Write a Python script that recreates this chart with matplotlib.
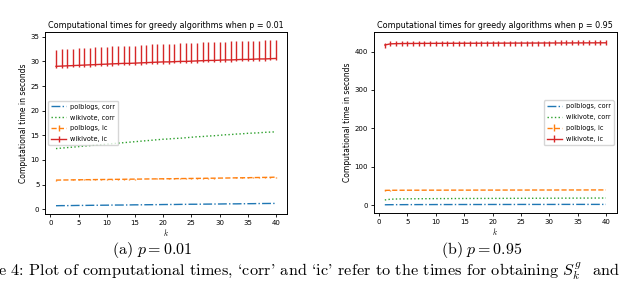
import numpy as np
import matplotlib
matplotlib.use('Agg')
import matplotlib.pyplot as plt

plt.rcParams['mathtext.fontset'] = 'cm'

k = list(range(1, 41))

# p = 0.01
pb_corr_001 = [0.70, 0.72, 0.72, 0.74, 0.76, 0.76, 0.78, 0.79, 0.80, 0.81,
               0.83, 0.84, 0.84, 0.86, 0.88, 0.88, 0.90, 0.91, 0.92, 0.94,
               0.95, 0.95, 0.97, 0.98, 1.00, 1.00, 1.02, 1.03, 1.04, 1.05,
               1.07, 1.08, 1.08, 1.10, 1.11, 1.12, 1.14, 1.15, 1.16, 1.17]
wv_corr_001 = [12.3, 12.4, 12.5, 12.6, 12.7, 12.8, 12.9, 13.0, 13.1, 13.2,
               13.3, 13.4, 13.5, 13.6, 13.7, 13.8, 13.9, 14.0, 14.1, 14.2,
               14.25, 14.35, 14.4, 14.5, 14.6, 14.7, 14.75, 14.85, 14.9, 15.0,
               15.1, 15.15, 15.25, 15.3, 15.4, 15.45, 15.5, 15.6, 15.65, 15.7]
pb_ic_001 = [5.90, 5.92, 5.93, 5.95, 5.96, 5.98, 5.99, 6.01, 6.02, 6.03,
             6.05, 6.06, 6.07, 6.09, 6.10, 6.11, 6.13, 6.14, 6.15, 6.17,
             6.18, 6.19, 6.21, 6.22, 6.24, 6.25, 6.26, 6.28, 6.29, 6.31,
             6.32, 6.34, 6.36, 6.37, 6.39, 6.41, 6.43, 6.45, 6.47, 6.50]
pb_ic_err_001 = [0.08] * 40
wv_ic_001 = [29.0, 29.05, 29.1, 29.15, 29.2, 29.25, 29.3, 29.35, 29.4, 29.45,
             29.5, 29.55, 29.6, 29.6, 29.65, 29.7, 29.75, 29.8, 29.85, 29.9,
             29.9, 29.95, 30.0, 30.0, 30.05, 30.1, 30.15, 30.2, 30.2, 30.25,
             30.3, 30.3, 30.35, 30.4, 30.4, 30.45, 30.5, 30.5, 30.55, 30.6]
wv_ic_lo_001 = [0.35] * 40
wv_ic_hi_001 = [3.4, 3.45, 3.4, 3.45, 3.5, 3.45, 3.5, 3.5, 3.55, 3.5,
                3.55, 3.55, 3.6, 3.6, 3.55, 3.6, 3.6, 3.65, 3.6, 3.65,
                3.65, 3.6, 3.65, 3.7, 3.65, 3.65, 3.7, 3.7, 3.65, 3.7,
                3.7, 3.75, 3.7, 3.7, 3.75, 3.75, 3.7, 3.75, 3.75, 3.7]

# p = 0.95
pb_corr_095 = [1.5, 1.7, 1.8, 1.8, 1.9, 1.9, 2.0, 2.0, 2.0, 2.1,
               2.1, 2.1, 2.1, 2.2, 2.2, 2.2, 2.2, 2.2, 2.3, 2.3,
               2.3, 2.3, 2.3, 2.3, 2.4, 2.4, 2.4, 2.4, 2.4, 2.4,
               2.4, 2.5, 2.5, 2.5, 2.5, 2.5, 2.5, 2.5, 2.5, 2.5]
wv_corr_095 = [14.0, 16.0, 16.5, 16.8, 17.0, 17.1, 17.2, 17.3, 17.4, 17.5,
               17.6, 17.6, 17.7, 17.8, 17.8, 17.9, 17.9, 18.0, 18.0, 18.1,
               18.1, 18.2, 18.2, 18.3, 18.3, 18.4, 18.4, 18.5, 18.5, 18.6,
               18.6, 18.7, 18.7, 18.8, 18.8, 18.9, 18.9, 19.0, 19.0, 19.1]
pb_ic_095 = [39.0, 39.2, 39.3, 39.3, 39.4, 39.4, 39.4, 39.5, 39.5, 39.5,
             39.5, 39.6, 39.6, 39.6, 39.6, 39.6, 39.7, 39.7, 39.7, 39.7,
             39.7, 39.8, 39.8, 39.8, 39.8, 39.8, 39.9, 39.9, 39.9, 39.9,
             39.9, 40.0, 40.0, 40.0, 40.0, 40.0, 40.1, 40.1, 40.1, 40.1]
pb_ic_err_095 = [0.6] * 40
wv_ic_095 = [417.0, 420.0, 420.5, 420.8, 421.0, 421.0, 421.2, 421.2, 421.3, 421.3,
             421.4, 421.4, 421.5, 421.5, 421.6, 421.6, 421.6, 421.7, 421.7, 421.8,
             421.8, 421.9, 421.9, 422.0, 422.0, 422.0, 422.1, 422.1, 422.2, 422.2,
             422.3, 422.3, 422.4, 422.4, 422.5, 422.5, 422.6, 422.6, 422.7, 422.7]
wv_ic_err_095 = [6.5] * 40

labels = ['polblogs, corr', 'wikivote, corr', 'polblogs, ic', 'wikivote, ic']

fig = plt.figure(figsize=(6.4, 2.84), dpi=100)
ax1 = fig.add_axes([0.0703, 0.2465, 0.378, 0.641])
ax2 = fig.add_axes([0.584, 0.25, 0.380, 0.637])

def dibujar(ax, pbc, wvc, pbi, pbi_err, wvi, wvi_err, titulo, loc):
    ax.plot(k, pbc, '-.', c='C0', lw=1, label=labels[0])
    ax.plot(k, wvc, ':', c='C2', lw=1, label=labels[1])
    ax.errorbar(k, pbi, yerr=pbi_err, ls='--', c='C1', lw=1, elinewidth=1, label=labels[2])
    ax.errorbar(k, wvi, yerr=wvi_err, ls='-', c='C3', lw=1, elinewidth=1, label=labels[3])
    ax.set_title(titulo, fontsize=5.8, pad=3)
    ax.set_xlabel('$k$', fontsize=5.5, labelpad=1)
    ax.set_ylabel('Computational time in seconds', fontsize=5.5, labelpad=2)
    ax.set_xticks([0, 5, 10, 15, 20, 25, 30, 35, 40])
    ax.tick_params(labelsize=5, length=2.5, width=0.6, pad=1.5)
    for s in ax.spines.values():
        s.set_linewidth(0.7)
    ax.legend(loc=loc, fontsize=4.7, handlelength=2.3, labelspacing=0.75,
              borderpad=0.45, handletextpad=0.6, framealpha=0.8)

dibujar(ax1, pb_corr_001, wv_corr_001, pb_ic_001, pb_ic_err_001, wv_ic_001,
        [wv_ic_lo_001, wv_ic_hi_001],
        'Computational times for greedy algorithms when p = 0.01', 'center left')
ax1.set_yticks([0, 5, 10, 15, 20, 25, 30, 35])

dibujar(ax2, pb_corr_095, wv_corr_095, pb_ic_095, pb_ic_err_095, wv_ic_095,
        wv_ic_err_095,
        'Computational times for greedy algorithms when p = 0.95', 'center right')
ax2.set_yticks([0, 100, 200, 300, 400])

fig.text(0.2375, 0.12, r'$\mathrm{(a)}\ p = 0.01$', fontsize=11.5, ha='center', va='center')
fig.text(0.752, 0.12, r'$\mathrm{(b)}\ p = 0.95$', fontsize=11.5, ha='center', va='center')
fig.text(-0.003, 0.03,
         "e 4: Plot of computational times, `corr' and `ic' refer to the times for obtaining "
         r'$S^g_{k}$  and',
         fontsize=11.7, family=['cmr10', 'DejaVu Serif'], ha='left', va='baseline')

fig.savefig('out.png', dpi=100)
